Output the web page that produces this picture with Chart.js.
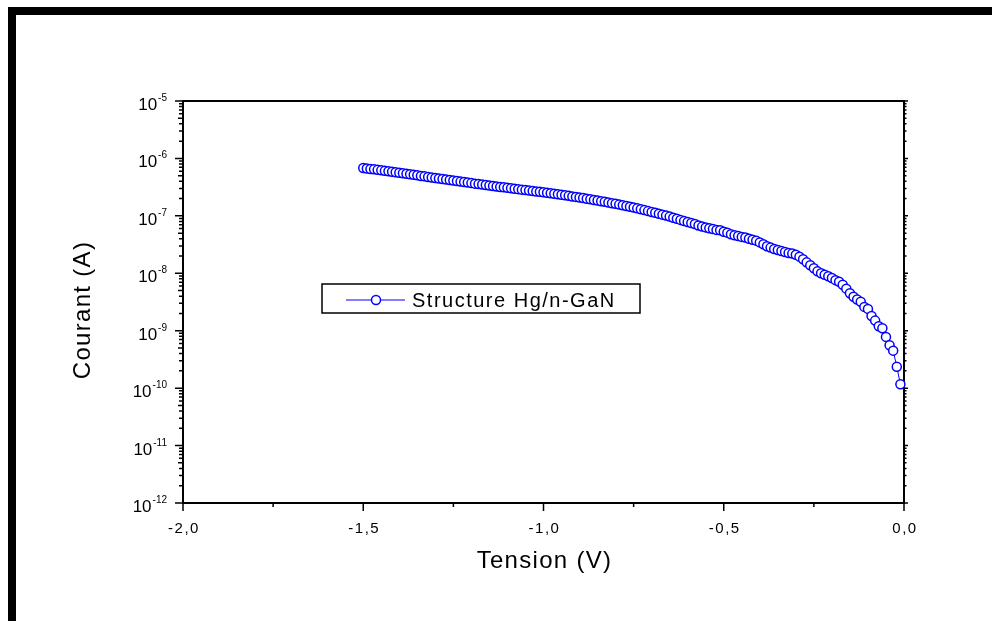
<!DOCTYPE html>
<html>
<head>
<meta charset="utf-8">
<script src="https://cdn.jsdelivr.net/npm/chart.js@4/dist/chart.umd.min.js"></script>
<style>
  html, body { margin: 0; padding: 0; background: #fff; }
  #wrap { position: relative; width: 992px; height: 621px; overflow: hidden; }
  #frame { position: absolute; left: 8px; top: 7px; right: -10px; bottom: -10px;
           border-top: 8px solid #000; border-left: 8px solid #000; }
  canvas { position: absolute; left: 0; top: 0; }
</style>
</head>
<body>
<div id="wrap">
  <div id="frame"></div>
  <canvas id="ivChart" width="992" height="621"></canvas>
</div>
<script>
// Tension (V)
const tension = [
  -1.50, -1.49, -1.48, -1.47, -1.46, -1.45, -1.44, -1.43, -1.42, -1.41,
  -1.40, -1.39, -1.38, -1.37, -1.36, -1.35, -1.34, -1.33, -1.32, -1.31,
  -1.30, -1.29, -1.28, -1.27, -1.26, -1.25, -1.24, -1.23, -1.22, -1.21,
  -1.20, -1.19, -1.18, -1.17, -1.16, -1.15, -1.14, -1.13, -1.12, -1.11,
  -1.10, -1.09, -1.08, -1.07, -1.06, -1.05, -1.04, -1.03, -1.02, -1.01,
  -1.00, -0.99, -0.98, -0.97, -0.96, -0.95, -0.94, -0.93, -0.92, -0.91,
  -0.90, -0.89, -0.88, -0.87, -0.86, -0.85, -0.84, -0.83, -0.82, -0.81,
  -0.80, -0.79, -0.78, -0.77, -0.76, -0.75, -0.74, -0.73, -0.72, -0.71,
  -0.70, -0.69, -0.68, -0.67, -0.66, -0.65, -0.64, -0.63, -0.62, -0.61,
  -0.60, -0.59, -0.58, -0.57, -0.56, -0.55, -0.54, -0.53, -0.52, -0.51,
  -0.50, -0.49, -0.48, -0.47, -0.46, -0.45, -0.44, -0.43, -0.42, -0.41,
  -0.40, -0.39, -0.38, -0.37, -0.36, -0.35, -0.34, -0.33, -0.32, -0.31,
  -0.30, -0.29, -0.28, -0.27, -0.26, -0.25, -0.24, -0.23, -0.22, -0.21,
  -0.20, -0.19, -0.18, -0.17, -0.16, -0.15, -0.14, -0.13, -0.12, -0.11,
  -0.10, -0.09, -0.08, -0.07, -0.06, -0.05, -0.04, -0.03, -0.02, -0.01
];

// Courant (A)
const courant = [
  6.80e-7, 6.70e-7, 6.55e-7, 6.45e-7, 6.32e-7, 6.20e-7, 6.08e-7, 5.97e-7, 5.85e-7, 5.74e-7,
  5.62e-7, 5.52e-7, 5.41e-7, 5.31e-7, 5.20e-7, 5.10e-7, 4.96e-7, 4.87e-7, 4.76e-7, 4.66e-7,
  4.57e-7, 4.48e-7, 4.38e-7, 4.30e-7, 4.21e-7, 4.12e-7, 4.04e-7, 3.95e-7, 3.88e-7, 3.80e-7,
  3.72e-7, 3.64e-7, 3.57e-7, 3.51e-7, 3.44e-7, 3.38e-7, 3.31e-7, 3.25e-7, 3.19e-7, 3.14e-7,
  3.09e-7, 3.03e-7, 2.97e-7, 2.92e-7, 2.86e-7, 2.81e-7, 2.76e-7, 2.71e-7, 2.66e-7, 2.62e-7,
  2.57e-7, 2.52e-7, 2.47e-7, 2.42e-7, 2.37e-7, 2.33e-7, 2.28e-7, 2.23e-7, 2.18e-7, 2.14e-7,
  2.09e-7, 2.04e-7, 1.99e-7, 1.94e-7, 1.89e-7, 1.85e-7, 1.80e-7, 1.76e-7, 1.71e-7, 1.66e-7,
  1.62e-7, 1.57e-7, 1.53e-7, 1.48e-7, 1.44e-7, 1.40e-7, 1.35e-7, 1.30e-7, 1.26e-7, 1.21e-7,
  1.17e-7, 1.13e-7, 1.09e-7, 1.05e-7, 1.01e-7, 9.7e-8, 9.3e-8, 8.9e-8, 8.5e-8, 8.1e-8,
  7.8e-8, 7.5e-8, 7.2e-8, 6.8e-8, 6.5e-8, 6.3e-8, 6.1e-8, 5.9e-8, 5.7e-8, 5.6e-8,
  5.3e-8, 5.1e-8, 4.8e-8, 4.6e-8, 4.45e-8, 4.3e-8, 4.2e-8, 4.0e-8, 3.85e-8, 3.7e-8,
  3.45e-8, 3.2e-8, 2.95e-8, 2.8e-8, 2.65e-8, 2.55e-8, 2.45e-8, 2.35e-8, 2.25e-8, 2.2e-8,
  2.1e-8, 1.95e-8, 1.75e-8, 1.55e-8, 1.38e-8, 1.22e-8, 1.08e-8, 1.0e-8, 9.4e-9, 8.9e-9,
  8.3e-9, 7.6e-9, 7.1e-9, 6.3e-9, 5.4e-9, 4.5e-9, 3.9e-9, 3.5e-9, 3.2e-9, 2.6e-9,
  2.4e-9, 1.8e-9, 1.5e-9, 1.2e-9, 1.1e-9, 7.8e-10, 5.6e-10, 4.5e-10, 2.35e-10, 1.17e-10
];

const xMajorTicks = [-2, -1.5, -1, -0.5, 0];
const xTickLabels = ['-2,0', '-1,5', '-1,0', '-0,5', '0,0'];
const xMinorTicks = [-1.75, -1.25, -0.75, -0.25];
const yExponents = [-12, -11, -10, -9, -8, -7, -6, -5];

const FONT = '"Liberation Sans", Arial, sans-serif';
const BLUE = '#0000ff';

// draws the Origin-style frame, ticks and labels
const axesPlugin = {
  id: 'originAxes',
  beforeDatasetsDraw(chart) {
    const { ctx, chartArea: a, scales } = chart;
    const xs = scales.x, ys = scales.y;
    ctx.save();
    ctx.strokeStyle = '#000';
    ctx.lineWidth = 2;
    ctx.strokeRect(a.left, a.top, a.right - a.left, a.bottom - a.top);

    ctx.lineWidth = 1.5;
    ctx.beginPath();
    xMajorTicks.forEach(v => {
      const px = xs.getPixelForValue(v);
      ctx.moveTo(px, a.bottom); ctx.lineTo(px, a.bottom + 8);
    });
    xMinorTicks.forEach(v => {
      const px = xs.getPixelForValue(v);
      ctx.moveTo(px, a.bottom); ctx.lineTo(px, a.bottom + 4);
    });
    yExponents.forEach((e, i) => {
      const py = ys.getPixelForValue(Math.pow(10, e));
      ctx.moveTo(a.left - 8, py); ctx.lineTo(a.left, py);
      ctx.moveTo(a.right, py); ctx.lineTo(a.right + 4, py);
      if (i < yExponents.length - 1) {
        for (let m = 2; m <= 9; m++) {
          const my = ys.getPixelForValue(m * Math.pow(10, e));
          const len = m === 5 ? 5 : 4;
          ctx.moveTo(a.left - len, my); ctx.lineTo(a.left, my);
          ctx.moveTo(a.right, my); ctx.lineTo(a.right + 2.5, my);
        }
      }
    });
    ctx.stroke();

    ctx.fillStyle = '#000';
    ctx.textAlign = 'center';
    ctx.textBaseline = 'alphabetic';
    ctx.font = '15px ' + FONT;
    ctx.letterSpacing = '1.5px';
    xMajorTicks.forEach((v, i) => {
      ctx.fillText(xTickLabels[i], xs.getPixelForValue(v) + 1, a.bottom + 30);
    });

    ctx.letterSpacing = '0px';
    ctx.textAlign = 'right';
    yExponents.forEach(e => {
      const py = ys.getPixelForValue(Math.pow(10, e));
      ctx.font = '10px ' + FONT;
      const sup = String(e);
      const w = ctx.measureText(sup).width;
      ctx.fillText(sup, a.left - 16, py);
      ctx.font = '17px ' + FONT;
      ctx.fillText('10', a.left - 17 - w, py + 9);
    });

    ctx.font = '24px ' + FONT;
    ctx.letterSpacing = '1.3px';
    ctx.textAlign = 'center';
    ctx.fillText('Tension (V)', (a.left + a.right) / 2 + 1, a.bottom + 65);
    ctx.translate(90, 310);
    ctx.rotate(-Math.PI / 2);
    ctx.fillText('Courant (A)', 0, 0);
    ctx.restore();
  },
  afterDraw(chart) {
    const { ctx } = chart;
    const ds = chart.data.datasets[0];
    ctx.save();
    ctx.fillStyle = '#fff';
    ctx.fillRect(322, 284, 318, 29);
    ctx.strokeStyle = '#000';
    ctx.lineWidth = 1.5;
    ctx.strokeRect(322, 284, 318, 29);
    ctx.strokeStyle = BLUE;
    ctx.lineWidth = 1;
    ctx.beginPath();
    ctx.moveTo(346, 300); ctx.lineTo(405, 300);
    ctx.stroke();
    ctx.beginPath();
    ctx.arc(376, 300, 4.5, 0, Math.PI * 2);
    ctx.fillStyle = '#fff';
    ctx.fill();
    ctx.lineWidth = 1.5;
    ctx.stroke();
    ctx.fillStyle = '#000';
    ctx.font = '20px ' + FONT;
    ctx.letterSpacing = '1.5px';
    ctx.textAlign = 'left';
    ctx.fillText(ds.label, 412, 307);
    ctx.restore();
  }
};

const ctx = document.getElementById('ivChart').getContext('2d');
new Chart(ctx, {
  type: 'scatter',
  data: {
    datasets: [{
      label: 'Structure Hg/n-GaN',
      data: tension.map((v, i) => ({ x: v, y: courant[i] })),
      showLine: true,
      borderColor: BLUE,
      borderWidth: 1,
      pointRadius: 4.5,
      pointBorderWidth: 1.5,
      pointBorderColor: BLUE,
      pointBackgroundColor: '#fff',
      clip: 10
    }]
  },
  options: {
    responsive: false,
    animation: false,
    layout: { padding: { left: 183, right: 88, top: 101, bottom: 118 } },
    plugins: { legend: { display: false }, tooltip: { enabled: false } },
    scales: {
      x: { type: 'linear', min: -2, max: 0, display: false },
      y: { type: 'logarithmic', min: 1e-12, max: 1e-5, display: false }
    }
  },
  plugins: [axesPlugin]
});
</script>
</body>
</html>
